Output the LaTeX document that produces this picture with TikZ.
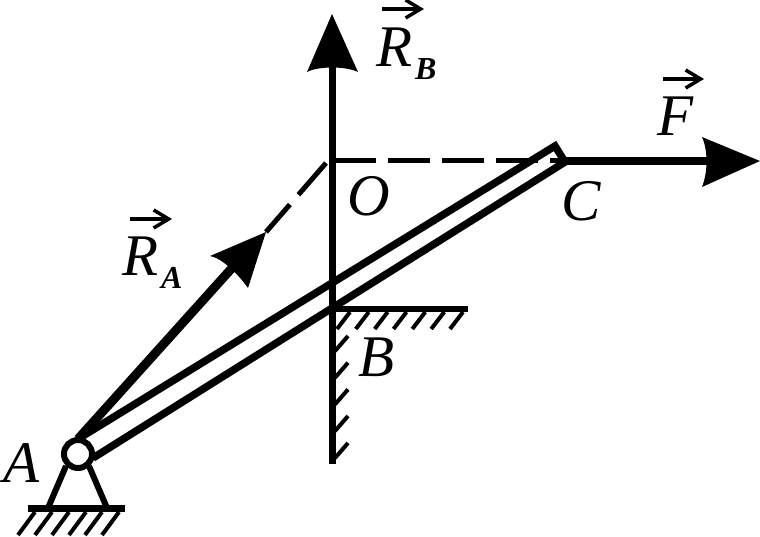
\documentclass[tikz,border=0pt]{standalone}
\usepackage{fontspec}
\setmainfont{Liberation Serif}
\usetikzlibrary{arrows.meta}
\tikzset{
  lab/.style={anchor=base west,inner sep=0pt,font=\fontsize{59}{59}\selectfont\itshape},
  hatch/.style={line width=4pt},
  vecbar/.style={line width=4pt,-{Straight Barb[length=15pt,width=18pt,line width=3.5pt]}},
  dashline/.style={line width=5pt,dash pattern=on 42pt off 12pt}
}
\newcommand{\sublab}[1]{R\kern3pt\raisebox{-13pt}{\fontsize{32}{32}\selectfont\bfseries\itshape #1}}
\begin{document}
\begin{tikzpicture}[x=1pt,y=-1pt]
\useasboundingbox (0,0) rectangle (760,537);

\coordinate (a) at (78,454);
\coordinate (a1) at (78,439);
\coordinate (a2) at (93,458);
\coordinate (c1) at (555,146);
\coordinate (c) at (565,162);
\coordinate (o) at (334,161);
\coordinate (o2) at (326,163);
\coordinate (b) at (332,309);

% walls
\draw[line width=7pt] (332,60) -- (332,464);
\draw[line width=6pt] (b) -- (468,309);
\foreach \x in {337,355.8,374.7,393.5,412.3,431.2,450}
  \draw[hatch] (\x,329) -- ++(13,-17);
\foreach \y in {351,377.7,404.4,431,458}
  \draw[hatch] (335,\y) -- ++(13,-15);

% bar
\draw[line width=7.5pt,line join=miter] (a1) -- (c1) -- (c) -- (a2);

% dashed lines
\draw[dashline] (o) -- (568,161);
\draw[dashline,dash pattern=on 42pt off 13pt] (o2) -- (266,232);

% forces
\draw[line width=8pt] (c) ++(0,-1) -- (712,161);
\fill (760,161) -- (702,137) .. controls (708,150) and (708,172) .. (702,187) -- cycle;
\draw[line width=9pt] (a1) -- (232,268);
\fill (266,232) -- (210,256) .. controls (222,258) and (238,274) .. (248,288) -- cycle;
\fill (332,14) -- (307,72) .. controls (318,66) and (346,66) .. (358,72) -- cycle;

% support
\draw[line width=6pt] (66,466) -- (48,508);
\draw[line width=6pt] (89,466) -- (107,508);
\draw[line width=7pt] (28,508) -- (125,508);
\foreach \x in {18,35,52,69,85,102}
  \draw[hatch] (\x,535) -- ++(17,-23);
\draw[line width=6pt,fill=white] (a) circle (14);

% labels
\node[lab] (lA) at (3,482) {A};
\node[lab] (lB) at (358,376) {B};
\node[lab] (lC) at (561,221) {C};
\node[lab] (lO) at (347,216) {O};
\node[lab] (lF) at (657,136) {F};
\node[lab] (lRA) at (122,276) {\sublab{A}};
\node[lab] (lRB) at (376,67) {\sublab{B}};
\draw[vecbar] (130,219) -- (172,219);
\draw[vecbar] (382,9) -- (424,9);
\draw[vecbar] (663,79) -- (704,79);

\end{tikzpicture}
\end{document}
